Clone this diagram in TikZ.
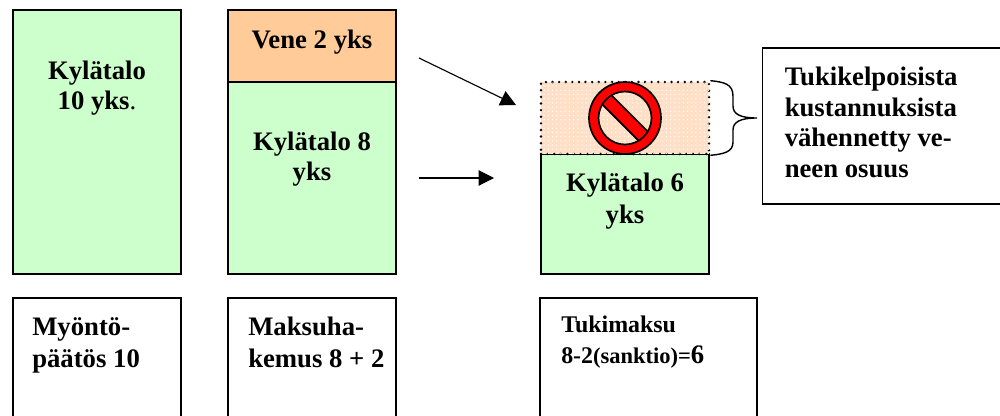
\documentclass[tikz,border=0pt]{standalone}
\usepackage{fontspec}
\setmainfont{Liberation Serif}
\usetikzlibrary{arrows.meta,patterns}
\tikzset{
    talo/.style={draw=black, line width=1.4pt, fill=talogreen, minimum width=119.5pt, inner sep=0pt},
    info/.style={draw=black, line width=1.4pt, fill=white, inner sep=0pt},
    txt/.style={font=\fontsize{19}{21.7}\selectfont\bfseries, align=center, inner sep=0pt},
    txtw/.style={font=\fontsize{19}{22.8}\selectfont\bfseries},
    txtl/.style={txt, align=left, anchor=north west},
    arw/.style={-{Triangle[length=11pt,width=11pt]}, line width=0.8pt}
}
\definecolor{talogreen}{HTML}{CCFFCC}
\definecolor{veneorange}{HTML}{FFCC99}
\definecolor{cutorange}{HTML}{FFDFC6}
\begin{document}
\begin{tikzpicture}[x=0.25mm,y=-0.25mm]
    \useasboundingbox (0,0) rectangle (1000,415);
    \clip (0,0) rectangle (1000,415);
    % Upper columns
    \node[talo, minimum height=187.7pt] (myonto) at (97,142) {};
    \node[talo, minimum height=51.2pt, fill=veneorange] (vene) at (312,46) {};
    \node[talo, minimum height=136.5pt] (talo8) at (312,178) {};
    \node[talo, minimum height=85.3pt] (talo6) at (625,214) {};
    \node[draw=black, line width=1.9pt, line cap=round, dash pattern=on 0pt off 4.7pt, minimum width=119.5pt, minimum height=51.2pt, inner sep=0pt, fill=cutorange, postaction={pattern=dots, pattern color=white}] (cut) at (625,118) {};
    \node[info, minimum width=170pt, minimum height=111pt] (selite) at (882,126) {};
    % Lower boxes
    \node[info, minimum width=119.5pt, minimum height=110pt] (paatos) at (97,375) {};
    \node[info, minimum width=119.5pt, minimum height=110pt] (hakemus) at (312,375) {};
    \node[info, minimum width=154pt, minimum height=110pt] (maksu) at (648.5,375) {};
    % Texts
    \node[txt] (t1) at (97,88) {Kylätalo\\10 yks\textmd{.}};
    \node[txt] (t2) at (312,42) {Vene 2 yks};
    \node[txt] (t3) at (312,159) {Kylätalo 8\\yks};
    \node[txt, txtw] (t4) at (625,201) {Kylätalo 6\\yks};
    \node[txtl] (t5) at (784.5,67) {Tukikelpoisista\\kustannuksista\\vähennetty ve-\\neen osuus};
    \node[txtl, txtw] (t6) at (32,317) {Myöntö-\\päätös 10};
    \node[txtl, txtw] (t7) at (248,317) {Maksuha-\\kemus 8 + 2};
    \node[txtl, font=\fontsize{17}{21.7}\selectfont\bfseries] (t8) at (561,316) {Tukimaksu\\8-2{\fontsize{16}{21.7}\selectfont (sanktio)=}{\fontsize{19}{21.7}\selectfont 6}};
    % Arrows
    \coordinate (a1) at (419,58);
    \coordinate (a2) at (516,105);
    \coordinate (b1) at (419,178);
    \coordinate (b2) at (494,178);
    \draw[arw] (a1) -- (a2);
    \draw[arw] (b1) -- (b2);
    % Brace
    \draw[line width=1pt] (cut.north east) .. controls (724,82) and (733,84) .. (733,96) -- (733,106) .. controls (733,114) and (740,118) .. (757,118) .. controls (740,118) and (733,122) .. (733,130) -- (733,142) .. controls (733,152) and (724,154) .. (cut.south east);
    % Forbidden sign
    \begin{scope}[shift={(cut.center)}]
        \draw[line width=1.2pt, fill=red, rotate=-45] (-28,-6.5) rectangle (28,6.5);
        \draw[line width=1.2pt, fill=red, even odd rule] (0,0) circle [radius=36] (0,0) circle [radius=26.5];
    \end{scope}
\end{tikzpicture}
\end{document}
